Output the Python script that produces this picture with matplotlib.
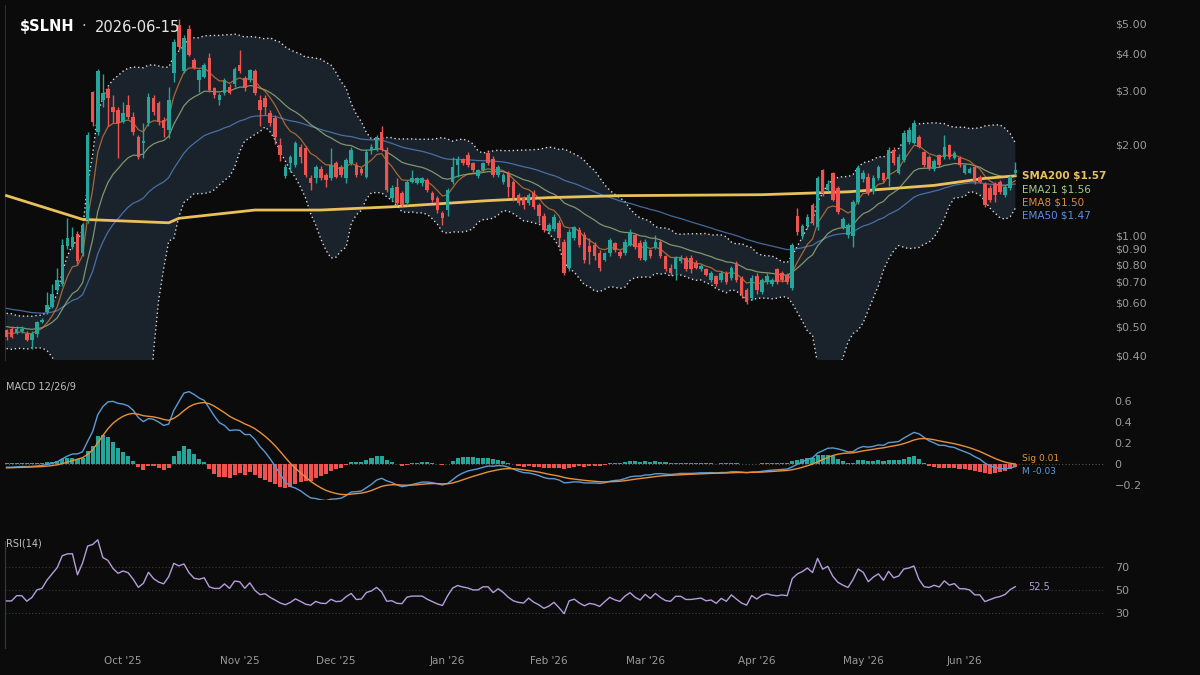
import numpy as np
import pandas as pd
import matplotlib
matplotlib.use('Agg')
import matplotlib.pyplot as plt
from matplotlib.ticker import FixedLocator, FuncFormatter, NullLocator

# daily candles for $SLNH, 2025-08-28 .. 2026-06-15
opens = [0.485, 0.49, 0.475, 0.48, 0.47, 0.45, 0.47, 0.515, 0.555, 0.58,
         0.66, 0.69, 0.92, 0.91, 1.01, 0.87, 1.12, 2.97, 2.20, 2.80,
         3.05, 2.65, 2.59, 2.37, 2.70, 2.46, 2.11, 2.02, 2.34, 2.85,
         2.74, 2.40, 2.22, 3.45, 4.95, 3.50, 4.80, 3.79, 3.26, 3.33,
         3.84, 3.07, 2.80, 2.95, 3.10, 3.16, 3.65, 3.30, 3.26, 3.50,
         2.80, 2.85, 2.53, 2.44, 1.98, 1.57, 1.73, 1.70, 1.95, 1.94,
         1.55, 1.54, 1.66, 1.58, 1.54, 1.73, 1.68, 1.54, 1.73, 1.70,
         1.66, 1.56, 1.91, 1.91, 2.19, 1.91, 1.33, 1.44, 1.38, 1.28,
         1.50, 1.49, 1.49, 1.52, 1.38, 1.33, 1.18, 1.21, 1.50, 1.70,
         1.78, 1.84, 1.73, 1.57, 1.64, 1.87, 1.79, 1.58, 1.50, 1.60,
         1.50, 1.36, 1.33, 1.28, 1.38, 1.26, 1.16, 1.03, 1.05, 1.10,
         0.95, 0.78, 0.98, 1.04, 1.00, 0.92, 0.93, 0.87, 0.83, 0.87,
         0.94, 0.88, 0.87, 0.93, 1.00, 0.94, 0.83, 0.89, 0.91, 0.95,
         0.85, 0.78, 0.77, 0.82, 0.84, 0.84, 0.81, 0.77, 0.77, 0.71,
         0.73, 0.71, 0.75, 0.72, 0.81, 0.72, 0.66, 0.62, 0.73, 0.65,
         0.70, 0.69, 0.77, 0.75, 0.74, 0.67, 1.16, 0.99, 1.07, 1.26,
         1.06, 1.64, 1.41, 1.60, 1.43, 1.06, 1.00, 0.99, 1.29, 1.53,
         1.56, 1.40, 1.54, 1.60, 1.53, 1.91, 1.61, 1.77, 2.03, 2.02,
         2.11, 1.88, 1.81, 1.65, 1.84, 1.81, 1.98, 1.80, 1.80, 1.61,
         1.61, 1.68, 1.56, 1.48, 1.43, 1.48, 1.50, 1.36, 1.43, 1.60]
highs = [0.49, 0.50, 0.50, 0.50, 0.48, 0.48, 0.52, 0.53, 0.65, 0.69,
         0.78, 0.97, 1.14, 1.06, 1.03, 1.10, 2.20, 3.00, 3.55, 3.40,
         3.10, 2.90, 2.65, 2.75, 2.90, 2.55, 2.15, 2.35, 2.95, 2.90,
         2.78, 2.45, 3.10, 4.45, 5.20, 4.60, 4.95, 3.85, 3.55, 3.70,
         4.00, 3.10, 2.95, 3.30, 3.15, 3.60, 4.10, 3.35, 3.55, 3.55,
         2.90, 2.90, 2.60, 2.50, 2.10, 1.72, 1.84, 2.05, 2.00, 1.97,
         1.58, 1.70, 1.69, 1.60, 1.94, 1.76, 1.71, 1.80, 1.95, 1.75,
         1.68, 1.92, 2.00, 2.14, 2.30, 1.95, 1.46, 1.54, 1.40, 1.52,
         1.64, 1.56, 1.56, 1.54, 1.40, 1.35, 1.20, 1.43, 1.81, 1.82,
         1.80, 1.88, 1.75, 1.66, 1.75, 1.90, 1.82, 1.70, 1.60, 1.63,
         1.52, 1.38, 1.35, 1.38, 1.41, 1.28, 1.18, 1.10, 1.17, 1.12,
         0.97, 1.05, 1.07, 1.06, 1.02, 0.98, 0.95, 0.89, 0.88, 0.98,
         0.95, 0.89, 0.97, 1.05, 1.01, 0.96, 0.97, 0.90, 1.00, 0.96,
         0.86, 0.80, 0.85, 0.86, 0.85, 0.86, 0.83, 0.80, 0.78, 0.76,
         0.74, 0.76, 0.76, 0.79, 0.82, 0.73, 0.67, 0.74, 0.75, 0.72,
         0.75, 0.72, 0.78, 0.76, 0.75, 0.94, 1.23, 1.09, 1.17, 1.28,
         1.57, 1.66, 1.52, 1.62, 1.45, 1.15, 1.10, 1.31, 1.70, 1.64,
         1.60, 1.58, 1.70, 1.62, 1.95, 1.96, 1.85, 2.22, 2.28, 2.40,
         2.14, 1.90, 1.84, 1.78, 1.86, 2.14, 2.00, 1.90, 1.82, 1.72,
         1.68, 1.70, 1.58, 1.50, 1.46, 1.50, 1.52, 1.46, 1.58, 1.74]
lows = [0.45, 0.455, 0.47, 0.475, 0.445, 0.42, 0.46, 0.51, 0.55, 0.575,
        0.65, 0.68, 0.90, 0.90, 0.80, 0.85, 1.10, 2.30, 2.15, 2.65,
        2.30, 2.35, 1.80, 2.35, 2.42, 2.15, 1.79, 1.80, 2.30, 2.50,
        2.32, 2.11, 2.10, 3.20, 4.10, 3.45, 3.90, 3.55, 2.97, 3.30,
        2.98, 2.85, 2.70, 2.90, 2.92, 3.10, 3.45, 3.00, 3.20, 2.90,
        2.30, 2.50, 2.30, 2.00, 1.76, 1.55, 1.62, 1.68, 1.73, 1.56,
        1.41, 1.49, 1.52, 1.44, 1.52, 1.54, 1.56, 1.49, 1.70, 1.56,
        1.58, 1.54, 1.86, 1.89, 1.89, 1.39, 1.30, 1.26, 1.24, 1.26,
        1.49, 1.47, 1.45, 1.39, 1.29, 1.18, 1.08, 1.16, 1.48, 1.56,
        1.71, 1.68, 1.62, 1.55, 1.62, 1.70, 1.56, 1.56, 1.48, 1.34,
        1.30, 1.26, 1.22, 1.26, 1.22, 1.10, 1.02, 1.01, 1.03, 0.91,
        0.74, 0.76, 0.96, 0.91, 0.81, 0.80, 0.83, 0.76, 0.82, 0.85,
        0.88, 0.84, 0.86, 0.92, 0.90, 0.83, 0.82, 0.84, 0.90, 0.84,
        0.76, 0.74, 0.71, 0.81, 0.76, 0.75, 0.77, 0.76, 0.73, 0.70,
        0.68, 0.70, 0.69, 0.71, 0.70, 0.62, 0.59, 0.61, 0.64, 0.64,
        0.69, 0.68, 0.69, 0.70, 0.69, 0.66, 1.00, 0.97, 1.05, 1.08,
        1.04, 1.35, 1.40, 1.30, 1.17, 1.05, 0.98, 0.91, 1.27, 1.50,
        1.36, 1.37, 1.52, 1.50, 1.45, 1.71, 1.59, 1.75, 2.00, 2.00,
        1.94, 1.68, 1.64, 1.63, 1.68, 1.79, 1.79, 1.78, 1.68, 1.59,
        1.60, 1.48, 1.49, 1.24, 1.29, 1.29, 1.37, 1.34, 1.41, 1.58]
closes = [0.46, 0.46, 0.49, 0.49, 0.45, 0.47, 0.515, 0.525, 0.585, 0.64,
          0.71, 0.93, 0.98, 0.985, 0.82, 1.08, 2.14, 2.37, 3.50, 2.95,
          2.85, 2.55, 2.35, 2.53, 2.46, 2.19, 1.81, 2.05, 2.87, 2.55,
          2.36, 2.26, 2.80, 4.35, 4.20, 4.48, 3.95, 3.58, 3.51, 3.65,
          3.02, 2.90, 2.90, 3.25, 2.95, 3.55, 3.50, 3.06, 3.51, 2.95,
          2.59, 2.65, 2.35, 2.11, 1.84, 1.68, 1.81, 2.01, 1.81, 1.58,
          1.49, 1.68, 1.54, 1.52, 1.71, 1.56, 1.58, 1.77, 1.91, 1.58,
          1.60, 1.88, 1.95, 2.11, 1.91, 1.41, 1.43, 1.28, 1.26, 1.50,
          1.54, 1.54, 1.54, 1.41, 1.31, 1.21, 1.14, 1.41, 1.68, 1.78,
          1.73, 1.70, 1.64, 1.64, 1.73, 1.73, 1.58, 1.68, 1.58, 1.44,
          1.33, 1.28, 1.26, 1.36, 1.24, 1.16, 1.04, 1.08, 1.15, 0.98,
          0.75, 1.02, 1.06, 0.93, 0.83, 0.88, 0.85, 0.78, 0.87, 0.96,
          0.89, 0.85, 0.95, 1.02, 0.91, 0.84, 0.95, 0.85, 0.95, 0.85,
          0.77, 0.75, 0.84, 0.84, 0.77, 0.77, 0.78, 0.79, 0.74, 0.75,
          0.69, 0.75, 0.70, 0.78, 0.71, 0.64, 0.60, 0.72, 0.66, 0.71,
          0.73, 0.71, 0.70, 0.71, 0.70, 0.93, 1.02, 1.07, 1.15, 1.10,
          1.54, 1.38, 1.48, 1.31, 1.19, 1.13, 1.08, 1.29, 1.67, 1.60,
          1.38, 1.55, 1.68, 1.52, 1.91, 1.73, 1.81, 2.17, 2.23, 2.35,
          1.96, 1.70, 1.67, 1.76, 1.70, 1.95, 1.81, 1.87, 1.70, 1.70,
          1.66, 1.50, 1.50, 1.26, 1.31, 1.36, 1.39, 1.44, 1.56, 1.64]

# closes before the first visible candle, only used to warm up the indicators
warmup_closes = [0.80, 0.77, 0.75, 0.72, 0.70, 0.68, 0.67, 0.64, 0.62, 0.61,
                 0.59, 0.58, 0.56, 0.55, 0.54, 0.56, 0.53, 0.50, 0.53, 0.49,
                 0.46, 0.50, 0.54, 0.51, 0.47, 0.44, 0.48, 0.52, 0.54, 0.50,
                 0.46, 0.43, 0.47, 0.51, 0.53, 0.50, 0.46, 0.44, 0.47, 0.49]

# SMA200 (candle index, price)
sma200_idx = [0, 15, 32, 34, 49, 62, 76, 95, 107, 121, 149, 166, 183, 193, 199]
sma200_val = [1.35, 1.127, 1.098, 1.136, 1.21, 1.21, 1.24, 1.30, 1.33, 1.35,
              1.36, 1.39, 1.46, 1.54, 1.57]

# values printed at the right edge
ma_names = ['SMA200', 'EMA21', 'EMA8', 'EMA50']
ma_last = [1.57, 1.56, 1.50, 1.47]
macd_last = -0.03
signal_last = 0.01
rsi_last = 52.5

holidays = ['2025-09-01', '2025-11-27', '2025-12-25', '2026-01-01',
            '2026-01-19', '2026-02-16', '2026-04-03', '2026-05-25']

BG = '#0b0b0c'
UP = '#26a69a'
DOWN = '#ef5350'
GRAY = '#9a9a9a'
ma_colors = {'SMA200': '#e8c15a', 'EMA21': '#a9c88a', 'EMA8': '#e0873a', 'EMA50': '#5d8fd8'}

# ---- indicators ----
n_pre = len(warmup_closes)
full = pd.Series(warmup_closes + closes)

def ema(s, span):
    return s.ewm(span=span, adjust=False).mean()

ema8 = ema(full, 8).iloc[n_pre:].values
ema21 = ema(full, 21).iloc[n_pre:].values
ema50 = ema(full, 50).iloc[n_pre:].values
mid = full.rolling(20).mean()
sd = full.rolling(20).std(ddof=0)
bb_up = (mid + 2 * sd).iloc[n_pre:].values
bb_lo = (mid - 2 * sd).iloc[n_pre:].values

macd_full = ema(full, 12) - ema(full, 26)
sig_full = ema(macd_full, 9)
macd = macd_full.iloc[n_pre:].values
sig = sig_full.iloc[n_pre:].values
hist = macd - sig

delta = full.diff()
gain = delta.clip(lower=0).ewm(alpha=1 / 14, adjust=False).mean()
loss = (-delta.clip(upper=0)).ewm(alpha=1 / 14, adjust=False).mean()
rsi = (100 - 100 / (1 + gain / loss)).iloc[n_pre:].values

n = len(closes)
x = np.arange(n)
dates = pd.bdate_range('2025-08-28', '2026-06-15')
dates = dates[~dates.isin(pd.to_datetime(holidays))][:n]

# ---- figure ----
fig = plt.figure(figsize=(12, 6.75), dpi=100, facecolor=BG)
W, H = 1200, 675
ax = fig.add_axes([5 / W, 1 - 360 / H, 1100 / W, 355 / H])
axm = fig.add_axes([5 / W, 1 - 500 / H, 1100 / W, 120 / H], sharex=ax)
axr = fig.add_axes([5 / W, 1 - 648 / H, 1100 / W, 116 / H], sharex=ax)

for a in (ax, axm, axr):
    a.set_facecolor(BG)
    for s in a.spines.values():
        s.set_visible(False)
    a.yaxis.tick_right()
    a.tick_params(axis='both', length=0, labelcolor=GRAY, labelsize=8, pad=7)
ax.spines['left'].set_visible(True)
ax.spines['left'].set_color('#2e2e2e')
axr.spines['left'].set_visible(True)
axr.spines['left'].set_color('#3a3a3a')
axr.spines['left'].set_bounds(0, 92)

# Bollinger bands
ax.fill_between(x, bb_lo, bb_up, color='#1a222b', zorder=1, lw=0)
ax.plot(x, bb_up, color='#d8d8d8', lw=1, ls=(0, (1, 2)), zorder=2)
ax.plot(x, bb_lo, color='#d8d8d8', lw=1, ls=(0, (1, 2)), zorder=2)

# moving averages
ax.plot(x, ema50, color=ma_colors['EMA50'], lw=0.9, alpha=0.7, zorder=3)
ax.plot(x, ema21, color=ma_colors['EMA21'], lw=0.9, alpha=0.7, zorder=3)
ax.plot(x, ema8, color=ma_colors['EMA8'], lw=0.9, alpha=0.7, zorder=3)
ax.plot(sma200_idx, sma200_val, color=ma_colors['SMA200'], lw=2, zorder=3)

# candles
o = np.array(opens)
c = np.array(closes)
cols = [UP if cc >= oo else DOWN for oo, cc in zip(o, c)]
ax.vlines(x, lows, highs, colors=cols, lw=1, zorder=4)
ax.bar(x, np.abs(c - o), bottom=np.minimum(o, c), width=0.7, color=cols, zorder=5)

ax.set_yscale('log')
ax.set_ylim(0.386, 5.77)
ax.set_xlim(-0.3, 216.7)
price_ticks = [5, 4, 3, 2, 1, 0.9, 0.8, 0.7, 0.6, 0.5, 0.4]
ax.yaxis.set_major_locator(FixedLocator(price_ticks))
ax.yaxis.set_minor_locator(NullLocator())
ax.yaxis.set_major_formatter(FuncFormatter(lambda v, p: '$%.2f' % v))
ax.tick_params(axis='x', labelbottom=False)

# labels at the right of the price panel
for k, (name, val) in enumerate(zip(ma_names, ma_last)):
    ax.annotate('%s $%.2f' % (name, val), xy=(n - 1, ma_last[0]),
                xytext=(5, -9.6 * k), textcoords='offset points',
                color=ma_colors[name], fontsize=7.5, va='center',
                fontweight='bold' if k == 0 else 'normal')

fig.text(20 / W, 1 - 27 / H, '$SLNH', color='white', fontsize=10.5,
         fontweight='bold', va='center')
fig.text(81 / W, 1 - 27 / H, '·', color='#bbbbbb', fontsize=10.5, va='center')
fig.text(95 / W, 1 - 27 / H, '2026-06-15', color='#e6e6e6', fontsize=10.5, va='center')

# MACD panel
axm.bar(x, hist, width=0.8, color=[UP if h >= 0 else DOWN for h in hist], zorder=2)
axm.plot(x, macd, color='#5b9bd5', lw=1, zorder=3)
axm.plot(x, sig, color='#e8913a', lw=1, zorder=3)
axm.axhline(0, color='#555555', lw=0.8, ls=(0, (1, 2)), zorder=1)
axm.set_ylim(-0.343, 0.8)
axm.yaxis.set_major_locator(FixedLocator([-0.2, 0, 0.2, 0.4, 0.6]))
axm.yaxis.set_major_formatter(FuncFormatter(
    lambda v, p: '0' if abs(v) < 1e-9 else ('%.1f' % v).replace('-', '\u2212')))
axm.tick_params(axis='x', labelbottom=False)
axm.text(0.001, 0.94, 'MACD 12/26/9', transform=axm.transAxes, color='#c0c0c0',
         fontsize=7, va='center')
axm.annotate('Sig %.2f' % signal_last, xy=(n - 1, signal_last), xytext=(5, 3.5),
             textcoords='offset points', color='#e8913a', fontsize=6.5, va='center')
axm.annotate('M %.2f' % macd_last, xy=(n - 1, macd_last), xytext=(5, -3),
             textcoords='offset points', color='#5b9bd5', fontsize=6.5, va='center')

# RSI panel
for lvl, col in [(70, '#5a3030'), (50, '#3c3c3c'), (30, '#2f4a3c')]:
    axr.axhline(lvl, color=col, lw=0.8, ls=(0, (1, 2)), zorder=1)
axr.plot(x, rsi, color='#b39ddb', lw=1, zorder=3)
axr.set_ylim(0, 100)
axr.yaxis.set_major_locator(FixedLocator([30, 50, 70]))
axr.text(0.001, 0.9, 'RSI(14)', transform=axr.transAxes, color='#c0c0c0',
         fontsize=7, va='center')
axr.annotate('%.1f' % rsi_last, xy=(n - 1, rsi_last), xytext=(9, 0),
             textcoords='offset points', color='#b39ddb', fontsize=7, va='center')

month_pos = [i for i in range(10, n) if dates[i].month != dates[i - 1].month]
axr.xaxis.set_major_locator(FixedLocator(month_pos))
axr.xaxis.set_major_formatter(FuncFormatter(lambda v, p: dates[int(round(v))].strftime("%b '%y")))
axr.tick_params(axis='x', labelsize=7.5, pad=6)

fig.savefig('out.png', dpi=100, facecolor=BG)
